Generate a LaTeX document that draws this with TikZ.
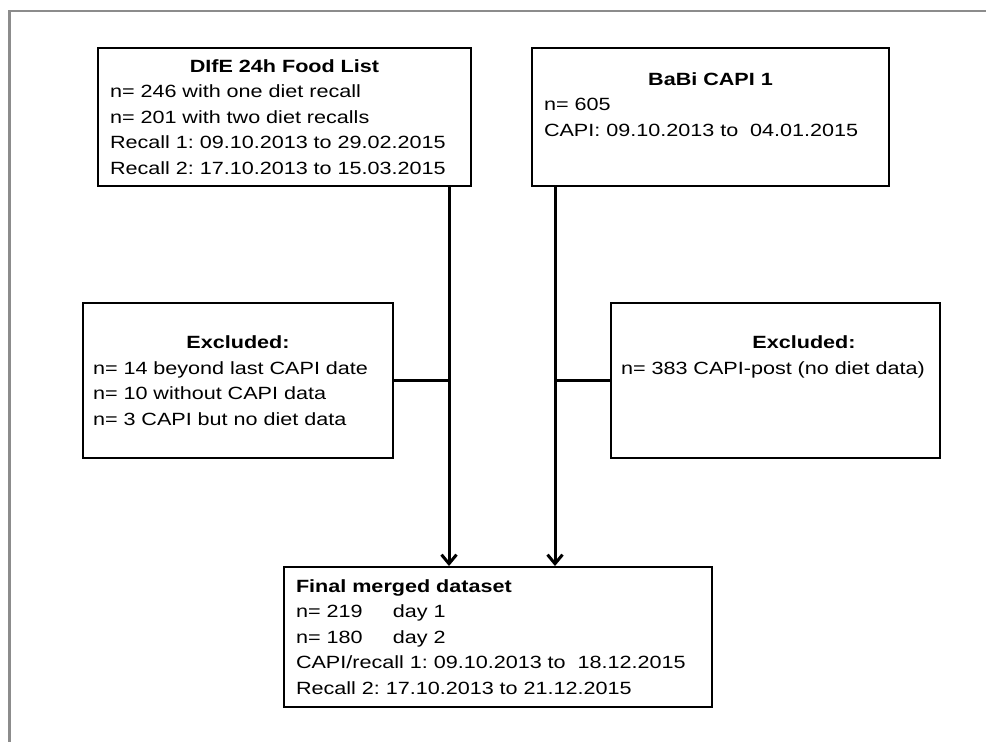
\documentclass[tikz,border=0pt]{standalone}
\usepackage{fontspec}
\setmainfont{Liberation Sans}[FakeStretch=1.22]
\frenchspacing
\usetikzlibrary{arrows.meta}

\begin{document}
\begin{tikzpicture}[x=1pt,y=-1pt,
  box/.style={draw,line width=2pt,rectangle,align=left,inner ysep=0pt,
    font=\fontsize{17.7}{25.5}\selectfont},
  flow/.style={line width=3pt,-{Straight Barb[length=9pt,width=15pt]}},
  link/.style={line width=3pt}]
\useasboundingbox (0,0) rectangle (986,742);

% Frame
\draw[line width=2.5pt,black!45] (9.5,742) -- (9.5,11) -- (986,11);

% Sources
\node[box,inner xsep=12pt,text width=349pt,minimum width=373pt,minimum height=138pt] (dife) at (284.5,117)
  {\makebox[\linewidth][c]{\textbf{DIfE 24h Food List}}\\
   n= 246 with one diet recall\\
   n= 201 with two diet recalls\\
   Recall 1: 09.10.2013 to 29.02.2015\\
   Recall 2: 17.10.2013 to 15.03.2015};
\node[box,inner xsep=12pt,text width=333pt,minimum width=357pt,minimum height=138pt] (babi) at (710.5,117)
  {\makebox[\linewidth][c]{\textbf{BaBi CAPI 1}}\\
   n= 605\\
   CAPI: 09.10.2013 to~ 04.01.2015\\
   \mbox{}};

% Exclusions
\node[box,inner xsep=10pt,text width=290pt,minimum width=310pt,minimum height=155pt] (excla) at (238,380.5)
  {\makebox[\linewidth][c]{\textbf{Excluded:}}\\
   n= 14 beyond last CAPI date\\
   n= 10 without CAPI data\\
   n= 3 CAPI but no diet data};
\node[box,inner xsep=10pt,text width=309pt,minimum width=329pt,minimum height=155pt] (exclb) at (775.5,380.5)
  {\makebox[\linewidth][c]{\hspace*{57pt}\textbf{Excluded:}}\\
   n= 383 CAPI-post (no diet data)\\
   \mbox{}\\
   \mbox{}};

% Result
\node[box,inner xsep=12pt,text width=404pt,minimum width=428pt,minimum height=140pt] (final) at (498,637)
  {\textbf{Final merged dataset}\\
   \makebox[97pt][l]{n= 219}day 1\\
   \makebox[97pt][l]{n= 180}day 2\\
   CAPI/recall 1: 09.10.2013 to~ 18.12.2015\\
   Recall 2: 17.10.2013 to 21.12.2015};

% Connectors
\coordinate (dl) at ([xshift=-23pt]dife.south east);
\coordinate (br) at ([xshift=24pt]babi.south west);
\draw[flow] (dl) -- (dl |- final.north);
\draw[flow] (br) -- (br |- final.north);
\draw[link] (excla.east) -- (excla.east -| dl);
\draw[link] (exclb.west) -- (exclb.west -| br);
\end{tikzpicture}
\end{document}
